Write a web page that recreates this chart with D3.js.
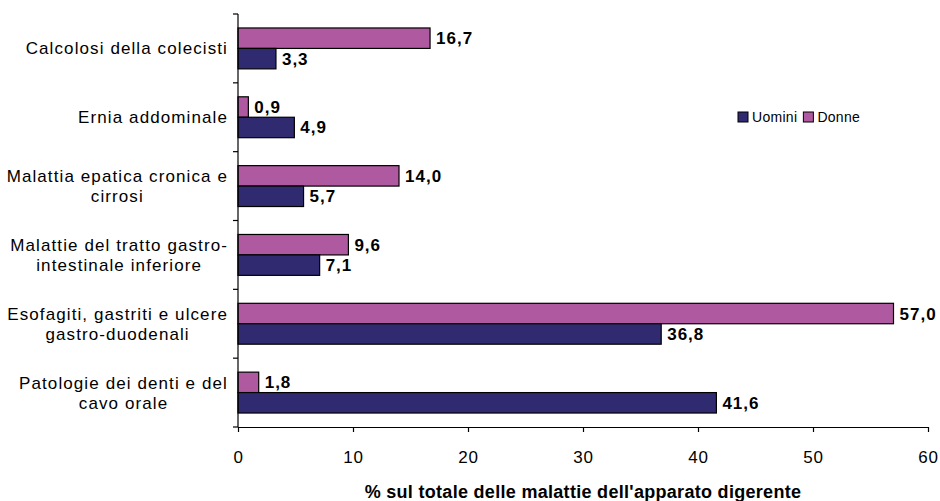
<!DOCTYPE html>
<html>
<head>
<meta charset="utf-8">
<script src="https://cdn.jsdelivr.net/npm/d3@7"></script>
<style>
  body { margin: 0; background: #fff; }
  svg { font-family: "Liberation Sans", Arial, sans-serif; }
</style>
</head>
<body>
<div id="chart"></div>
<script>
// data
var categories = [
  ["Calcolosi della colecisti"],
  ["Ernia addominale"],
  ["Malattia epatica cronica e", "cirrosi"],
  ["Malattie del tratto gastro-", "intestinale inferiore"],
  ["Esofagiti, gastriti e ulcere", "gastro-duodenali"],
  ["Patologie dei denti e del", "cavo orale"]
];
var donne = [16.7, 0.9, 14.0, 9.6, 57.0, 1.8];
var uomini = [3.3, 4.9, 5.7, 7.1, 36.8, 41.6];
var xTicks = [0, 10, 20, 30, 40, 50, 60];
var seriesNames = ["Uomini", "Donne"];
var colors = { Uomini: "#302b70", Donne: "#af5aa0" };

var width = 940, height = 501;
var margin = { top: 14, right: 12, bottom: 74, left: 238 };

var svg = d3.select("#chart").append("svg")
    .attr("width", width)
    .attr("height", height);

var x = d3.scaleLinear()
    .domain([0, 60])
    .range([margin.left, 928]);

var y = d3.scaleBand()
    .domain(d3.range(categories.length))
    .range([margin.top, height - margin.bottom])
    .paddingInner(0.406)
    .paddingOuter(0.203);

var fmt = function(v) { return v.toFixed(1).replace(".", ","); };

var g = svg.append("g");

// bars
var rows = g.selectAll(".row")
    .data(categories.map(function(c, i) { return { i: i, Donne: donne[i], Uomini: uomini[i] }; }))
    .enter().append("g")
    .attr("class", "row");

var bh = y.bandwidth() / 2;

rows.each(function(d) {
  var r = d3.select(this);
  ["Donne", "Uomini"].forEach(function(s, k) {
    var yy = y(d.i) + k * bh;
    r.append("rect")
      .attr("x", x(0))
      .attr("y", yy)
      .attr("width", x(d[s]) - x(0))
      .attr("height", bh)
      .attr("fill", colors[s])
      .attr("stroke", "#000")
      .attr("stroke-width", 1.2);
    r.append("text")
      .attr("x", x(d[s]) + 6)
      .attr("y", yy + bh / 2 + 6)
      .attr("font-size", 17)
      .attr("letter-spacing", 1)
      .attr("font-weight", "bold")
      .text(fmt(d[s]));
  });
});

// x axis
var xAxis = svg.append("g")
    .attr("transform", "translate(0," + (height - margin.bottom) + ")")
    .call(d3.axisBottom(x).tickValues(xTicks).tickSize(5).tickSizeOuter(0).tickPadding(19));
xAxis.select(".domain").attr("stroke", "#000").attr("stroke-width", 1.2);
xAxis.selectAll(".tick line").attr("stroke", "#000").attr("stroke-width", 1.2);
xAxis.selectAll("text")
    .attr("font-size", 17)
    .attr("letter-spacing", 0.8)
    .attr("font-family", "Liberation Sans, Arial, sans-serif")
    .attr("fill", "#000");

// y axis, ticks between categories
var step = y.step();
var yStart = margin.top, yEnd = height - margin.bottom;
svg.append("line")
    .attr("x1", x(0)).attr("x2", x(0))
    .attr("y1", yStart).attr("y2", yEnd)
    .attr("stroke", "#000").attr("stroke-width", 1.2);
var bounds = d3.range(categories.length + 1).map(function(i) { return yStart + i * step; });
svg.selectAll(".ytick")
    .data(bounds)
    .enter().append("line")
    .attr("x1", x(0) - 5).attr("x2", x(0))
    .attr("y1", function(d) { return d; }).attr("y2", function(d) { return d; })
    .attr("stroke", "#000").attr("stroke-width", 1.2);

// category labels
svg.selectAll(".cat")
    .data(categories)
    .enter().append("text")
    .attr("class", "cat")
    .attr("font-size", 17)
    .attr("letter-spacing", 1.1)
    .attr("fill", "#000")
    .each(function(lines, i) {
      var t = d3.select(this);
      var cy = y(i) + y.bandwidth() / 2;
      var lh = 20;
      var y0 = cy - (lines.length - 1) * lh / 2 + 6;
      lines.forEach(function(l, k) {
        t.append("tspan").attr("y", y0 + k * lh).text(l);
      });
      var widths = [];
      t.selectAll("tspan").each(function() { widths.push(this.getComputedTextLength()); });
      var cx = 228 - d3.max(widths) / 2;
      t.selectAll("tspan").attr("x", cx).attr("text-anchor", "middle");
    });

// axis title
svg.append("text")
    .attr("x", (x(0) + x(60)) / 2)
    .attr("y", 498)
    .attr("text-anchor", "middle")
    .attr("font-size", 18)
    .attr("letter-spacing", 0.3)
    .attr("font-weight", "bold")
    .text("% sul totale delle malattie dell'apparato digerente");

// legend
var legend = svg.append("g").attr("transform", "translate(738,112)");
var lx = 0;
seriesNames.forEach(function(s) {
  legend.append("rect")
    .attr("x", lx).attr("y", 0)
    .attr("width", 10).attr("height", 10)
    .attr("fill", colors[s])
    .attr("stroke", "#000").attr("stroke-width", 1);
  var t = legend.append("text")
    .attr("x", lx + 14).attr("y", 10)
    .attr("font-size", 14)
    .attr("letter-spacing", 0.3)
    .text(s);
  lx += 14 + t.node().getComputedTextLength() + 6;
});
</script>
</body>
</html>
